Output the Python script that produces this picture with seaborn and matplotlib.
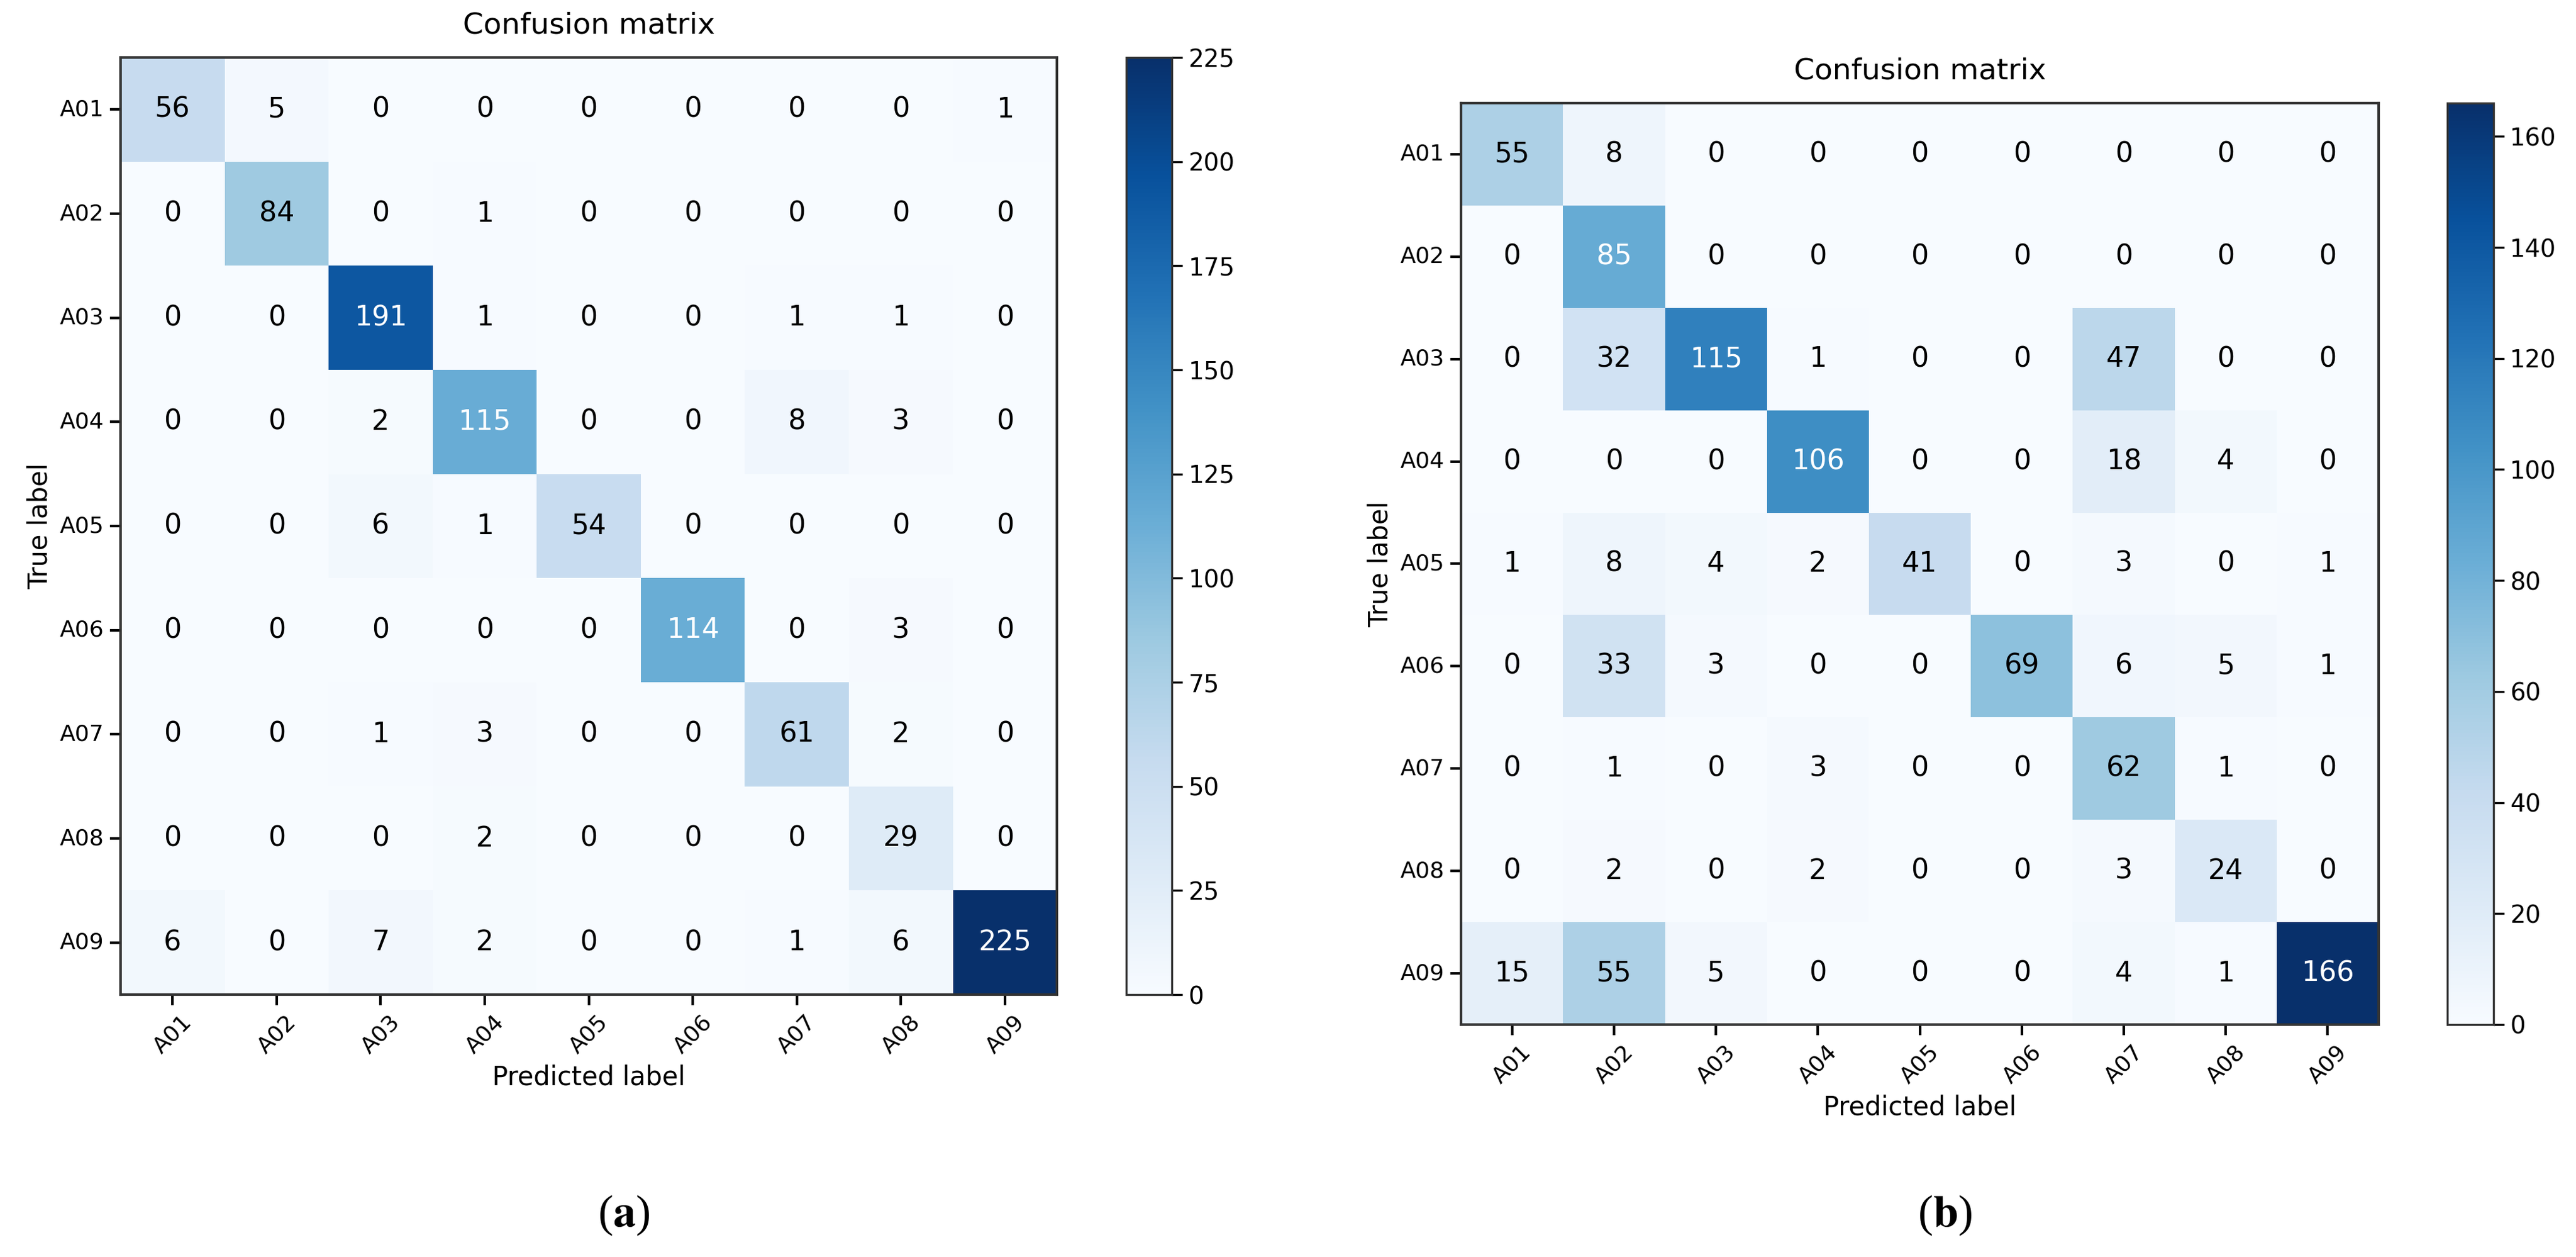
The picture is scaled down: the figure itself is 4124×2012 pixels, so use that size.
import numpy as np
import seaborn as sns
import matplotlib.pyplot as plt

# class labels
classes = ['A01', 'A02', 'A03', 'A04', 'A05', 'A06', 'A07', 'A08', 'A09']

# confusion matrix (a)
cm_a = np.array([
    [56, 5, 0, 0, 0, 0, 0, 0, 1],
    [0, 84, 0, 1, 0, 0, 0, 0, 0],
    [0, 0, 191, 1, 0, 0, 1, 1, 0],
    [0, 0, 2, 115, 0, 0, 8, 3, 0],
    [0, 0, 6, 1, 54, 0, 0, 0, 0],
    [0, 0, 0, 0, 0, 114, 0, 3, 0],
    [0, 0, 1, 3, 0, 0, 61, 2, 0],
    [0, 0, 0, 2, 0, 0, 0, 29, 0],
    [6, 0, 7, 2, 0, 0, 1, 6, 225],
])

# confusion matrix (b)
cm_b = np.array([
    [55, 8, 0, 0, 0, 0, 0, 0, 0],
    [0, 85, 0, 0, 0, 0, 0, 0, 0],
    [0, 32, 115, 1, 0, 0, 47, 0, 0],
    [0, 0, 0, 106, 0, 0, 18, 4, 0],
    [1, 8, 4, 2, 41, 0, 3, 0, 1],
    [0, 33, 3, 0, 0, 69, 6, 5, 1],
    [0, 1, 0, 3, 0, 0, 62, 1, 0],
    [0, 2, 0, 2, 0, 0, 3, 24, 0],
    [15, 55, 5, 0, 0, 0, 4, 1, 166],
])

cbar_ticks_a = [0, 25, 50, 75, 100, 125, 150, 175, 200, 225]
cbar_ticks_b = [0, 20, 40, 60, 80, 100, 120, 140, 160]

plt.rcParams['font.family'] = 'DejaVu Sans'
plt.rcParams['mathtext.fontset'] = 'stix'

fig = plt.figure(figsize=(20.62, 10.06), dpi=200)


def draw_cm(cm, ax_rect, cax_rect, cticks):
    ax = fig.add_axes(ax_rect)
    cax = fig.add_axes(cax_rect)
    sns.heatmap(cm, ax=ax, cbar_ax=cax, cmap='Blues', vmin=0, vmax=cm.max(),
                annot=True, fmt='d', annot_kws={'size': 16},
                xticklabels=classes, yticklabels=classes)
    # sklearn-style text colour: white above half of max
    thresh = cm.max() / 2.0
    for t in ax.texts:
        t.set_color('white' if int(t.get_text()) > thresh else 'black')
    ax.set_title('Confusion matrix', fontsize=17, pad=14)
    ax.set_xlabel('Predicted label', fontsize=15)
    ax.set_ylabel('True label', fontsize=15)
    ax.set_xticklabels(classes, rotation=45, fontsize=13)
    ax.set_yticklabels(classes, rotation=0, fontsize=13)
    ax.tick_params(length=6, width=1.5)
    for s in ax.spines.values():
        s.set_visible(True)
        s.set_linewidth(1.5)
        s.set_color('#333333')
    cb = ax.collections[0].colorbar
    cb.set_ticks(cticks)
    cb.ax.tick_params(labelsize=14, length=6, width=1.2)
    cb.outline.set_visible(True)
    cb.outline.set_linewidth(1.2)
    cb.outline.set_edgecolor('#333333')
    return ax


draw_cm(cm_a, [0.0468, 0.2087, 0.3635, 0.7455], [0.4372, 0.2087, 0.0177, 0.7455], cbar_ticks_a)
draw_cm(cm_b, [0.5672, 0.1849, 0.3562, 0.7331], [0.9500, 0.1849, 0.0179, 0.7331], cbar_ticks_b)

fig.text(0.2422, 0.0333, r'($\mathbf{a}$)', ha='center', va='center', fontsize=26,
         family='Liberation Serif')
fig.text(0.7549, 0.0333, r'($\mathbf{b}$)', ha='center', va='center', fontsize=26,
         family='Liberation Serif')

plt.savefig('out.png', dpi=200, facecolor='white')
plt.close()
